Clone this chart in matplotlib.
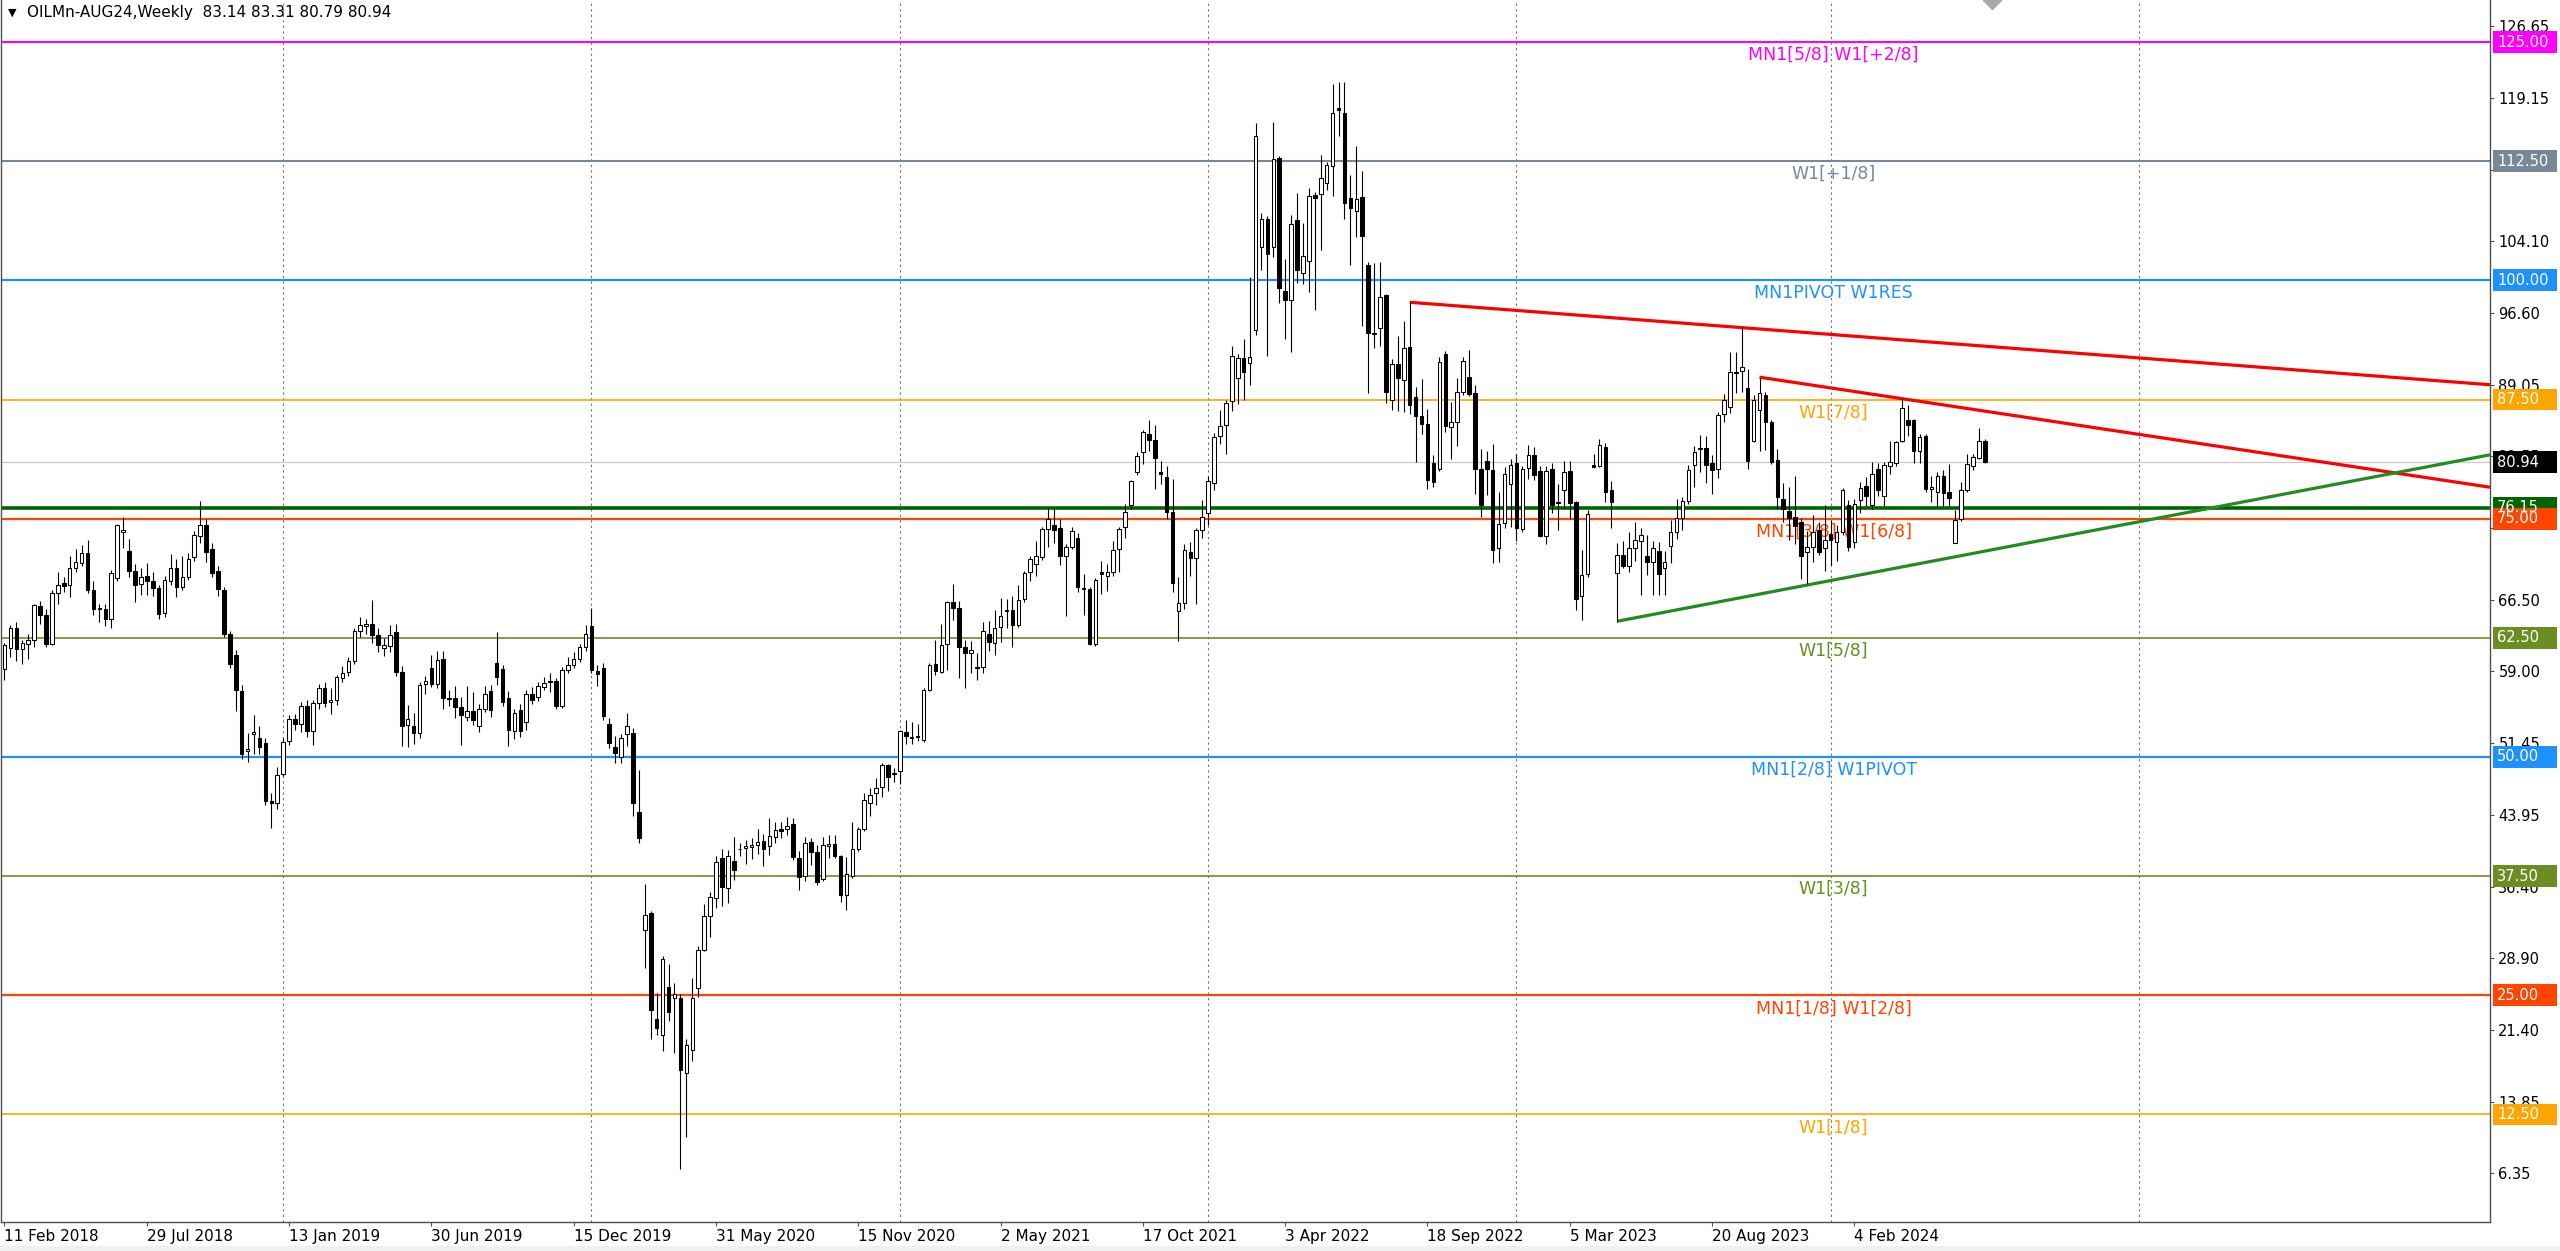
import numpy as np
import matplotlib
matplotlib.use("Agg")
import matplotlib.pyplot as plt
import matplotlib.transforms as mtransforms
from matplotlib.patches import Rectangle

plt.rcParams['font.family'] = ['DejaVu Sans']

# ---------------- data (weekly candles, bar 0 = 11 Feb 2018) ----------------
opens = [
 59.2, 61.4, 63.55, 61.3, 61.9, 62.3, 65.8, 64.9, 61.9, 67.2,
 68.2, 68.0, 69.8, 70.3, 71.4, 67.5, 65.6, 65.5, 64.5, 68.8,
 73.6, 71.6, 69.5, 68.1, 68.95, 68.5, 67.7, 65.1, 68.5, 69.8,
 67.8, 68.9, 71.0, 73.2, 74.3, 71.8, 69.5, 67.5, 62.9, 60.7,
 56.9, 50.6, 52.4, 52.0, 51.5, 45.4, 45.2, 48.25, 51.7, 53.96,
 53.5, 55.3, 52.7, 55.7, 57.2, 55.8, 56.0, 58.3, 58.95, 60.1,
 63.2, 63.7, 64.0, 62.8, 61.45, 61.6, 63.1, 58.9, 53.4, 53.3,
 52.5, 57.7, 59.3, 57.7, 60.3, 56.2, 56.2, 55.2, 54.2, 54.8,
 53.3, 55.0, 56.9, 59.9, 59.2, 56.2, 52.7, 54.9, 53.7, 56.6,
 56.3, 57.3, 57.97, 57.97, 55.4, 59.1, 59.7, 60.3, 61.5, 63.7,
 59.0, 59.3, 53.5, 51.0, 50.0, 52.4, 52.5, 44.2, 31.8, 33.6,
 22.5, 20.8, 25.9, 24.7, 24.7, 16.8, 19.3, 25.8, 29.75, 33.3,
 35.2, 39.4, 36.3, 39.1, 40.3, 40.5, 40.55, 40.76, 41.2, 40.7,
 41.6, 42.4, 42.4, 42.95, 39.4, 37.5, 41.1, 40.0, 37.2, 40.65,
 40.9, 39.6, 35.5, 37.5, 40.3, 42.4, 45.2, 46.2, 46.9, 49.2,
 48.3, 48.5, 52.6, 52.0, 52.1, 51.8, 57.0, 59.8, 58.9, 61.9,
 66.3, 65.6, 61.5, 60.9, 59.4, 59.4, 62.9, 62.0, 63.6, 65.3,
 65.4, 63.8, 66.6, 69.4, 70.25, 70.95, 73.9, 74.3, 74.0, 71.1,
 72.0, 73.0, 67.7, 67.6, 61.9, 69.4, 69.0, 69.4, 71.8, 74.1,
 76.4, 79.9, 81.95, 83.9, 83.3, 79.9, 79.4, 75.7, 65.3, 66.2,
 71.5, 70.9, 73.8, 75.6, 78.76, 83.7, 84.8, 87.3, 89.8, 91.9,
 91.3, 94.8, 103.5, 106.45, 103.5, 112.85, 98.9, 97.9, 106.3, 100.8,
 102.0, 109.0, 109.1, 110.2, 112.0, 118.1, 117.6, 108.65, 107.25, 108.75,
 101.6, 94.4, 95.0, 98.45, 87.4, 91.2, 89.5, 93.0, 87.8, 85.8,
 84.9, 80.85, 80.2, 92.3, 84.6, 85.1, 88.3, 89.9, 88.2, 80.25,
 81.0, 80.1, 71.9, 74.5, 78.6, 80.8, 73.9, 80.3, 81.7, 80.0,
 73.2, 80.2, 76.7, 78.0, 80.0, 76.7, 66.9, 69.2, 80.6, 80.5,
 82.5, 78.0, 69.3, 71.2, 70.0, 71.9, 72.7, 71.1, 70.5, 71.6,
 69.8, 72.1, 73.6, 75.05, 76.9, 80.6, 82.3, 82.4, 80.8, 80.2,
 86.0, 86.7, 90.4, 90.5, 88.7, 83.2, 86.35, 88.0, 85.1, 81.2,
 77.1, 75.8, 75.2, 74.65, 71.5, 72.0, 73.8, 71.9, 73.4, 72.6,
 73.6, 76.4, 72.6, 77.0, 78.4, 76.4, 80.2, 77.4, 80.5, 80.8,
 83.2, 85.3, 85.3, 82.05, 83.7, 78.1, 77.8, 79.5, 77.8, 72.5,
 75.0, 78.0, 80.5, 81.35, 83.14,
]
highs = [
 62.0, 63.8, 64.2, 62.3, 62.9, 66.1, 66.4, 65.5, 67.5, 69.4,
 68.9, 71.1, 71.8, 72.2, 72.8, 68.5, 66.1, 66.0, 69.6, 74.4,
 75.2, 72.9, 70.2, 69.8, 70.3, 69.4, 68.0, 69.0, 71.3, 70.8,
 71.1, 71.4, 73.7, 76.9, 75.0, 72.5, 70.0, 67.8, 63.2, 61.2,
 57.5, 52.5, 54.4, 53.2, 52.0, 46.2, 48.9, 52.0, 54.4, 54.5,
 55.8, 56.0, 56.0, 57.7, 57.9, 57.2, 58.6, 59.5, 60.5, 63.5,
 64.7, 64.5, 66.5, 63.5, 62.5, 63.8, 64.0, 59.5, 55.5, 54.6,
 57.9, 58.5, 60.7, 61.1, 61.1, 57.0, 57.4, 56.3, 57.4, 56.8,
 55.6, 57.4, 57.6, 63.1, 59.6, 56.9, 55.0, 55.6, 57.0, 57.3,
 57.9, 58.4, 58.8, 58.3, 59.4, 60.5, 61.0, 61.9, 63.8, 65.6,
 59.6, 59.9, 54.1, 52.2, 52.4, 54.6, 53.0, 48.6, 36.7, 33.8,
 25.2, 29.1, 28.3, 26.3, 25.1, 20.4, 26.8, 30.2, 34.6, 35.8,
 39.65, 40.4, 40.2, 41.6, 41.0, 41.3, 41.5, 42.4, 41.9, 43.6,
 43.2, 43.2, 43.7, 43.55, 40.1, 41.6, 41.45, 40.8, 41.6, 41.8,
 41.8, 39.7, 39.5, 43.2, 42.7, 46.2, 46.7, 47.8, 49.4, 49.3,
 48.8, 52.8, 53.9, 53.7, 53.5, 57.2, 59.9, 62.25, 63.9, 66.4,
 68.1, 66.4, 62.3, 62.2, 60.9, 64.2, 64.3, 65.4, 66.7, 66.6,
 66.9, 68.0, 69.5, 71.1, 72.7, 74.1, 76.1, 76.0, 75.0, 72.3,
 74.1, 73.5, 69.2, 67.8, 68.8, 70.6, 70.25, 72.7, 74.1, 76.5,
 79.1, 81.95, 84.3, 85.3, 84.8, 81.1, 80.55, 79.2, 68.85, 72.3,
 72.6, 74.0, 77.0, 79.5, 84.0, 86.45, 87.5, 93.1, 92.3, 93.9,
 100.4, 116.5, 107.1, 106.7, 116.6, 113.0, 102.2, 106.9, 109.2, 106.0,
 109.7, 109.3, 113.1, 112.4, 120.65, 120.8, 120.8, 111.1, 114.1, 111.45,
 101.9, 101.8, 101.9, 98.6, 91.8, 94.2, 95.7, 97.7, 88.8, 89.6,
 86.5, 81.65, 91.96, 92.55, 87.2, 89.8, 91.96, 92.7, 89.0, 82.35,
 82.1, 82.8, 77.8, 80.4, 81.3, 81.8, 80.5, 82.7, 82.5, 80.5,
 80.5, 80.8, 78.6, 81.0, 81.0, 76.9, 71.7, 75.9, 81.8, 83.4,
 82.9, 79.0, 72.5, 72.7, 73.6, 74.7, 74.0, 73.3, 72.7, 72.55,
 71.6, 74.9, 77.1, 77.3, 80.6, 82.6, 83.8, 83.7, 81.7, 86.2,
 88.1, 92.5, 92.5, 95.1, 90.7, 88.0, 89.8, 88.3, 85.4, 82.3,
 78.7, 78.3, 79.5, 75.1, 73.7, 75.35, 74.65, 76.4, 74.9, 74.3,
 78.2, 77.0, 77.1, 78.8, 79.4, 80.9, 80.8, 80.9, 83.1, 83.2,
 87.7, 86.9, 85.5, 83.9, 83.9, 79.5, 79.9, 80.1, 80.7, 75.9,
 78.8, 81.8, 81.8, 84.5, 83.31,
]
lows = [
 58.1, 60.5, 60.1, 59.8, 60.3, 61.5, 64.0, 61.5, 61.8, 66.0,
 67.3, 66.8, 69.4, 70.0, 67.2, 64.9, 64.2, 63.7, 63.5, 68.5,
 71.9, 68.9, 66.3, 67.0, 67.0, 66.9, 64.5, 64.7, 68.0, 66.8,
 67.5, 68.6, 70.6, 72.5, 70.5, 68.9, 66.9, 62.6, 59.3, 54.8,
 49.8, 49.5, 50.3, 50.3, 45.0, 42.6, 44.5, 48.0, 51.3, 52.8,
 52.6, 52.1, 51.3, 55.0, 55.2, 54.5, 55.5, 57.9, 58.5, 59.8,
 62.6, 62.9, 62.0, 61.0, 60.6, 61.0, 58.5, 51.2, 51.0, 51.4,
 52.0, 56.6, 57.3, 57.2, 55.0, 55.4, 54.1, 51.3, 53.8, 53.4,
 52.6, 54.7, 54.2, 57.5, 55.3, 51.2, 51.9, 52.1, 52.85, 55.6,
 55.9, 57.0, 56.8, 55.0, 55.1, 58.8, 59.3, 60.0, 61.1, 58.8,
 57.4, 53.85, 50.9, 49.4, 49.4, 51.2, 43.8, 41.0, 27.9, 20.4,
 20.8, 19.2, 22.3, 18.9, 6.8, 10.1, 18.1, 24.8, 29.6, 31.1,
 34.2, 34.4, 34.7, 37.1, 39.6, 38.8, 39.3, 39.8, 38.6, 39.7,
 41.0, 41.5, 41.8, 39.2, 36.0, 37.0, 38.7, 36.6, 37.0, 39.4,
 39.4, 34.8, 33.9, 37.3, 40.1, 42.2, 43.8, 45.0, 45.8, 46.4,
 47.4, 47.2, 51.4, 51.4, 51.7, 51.6, 56.9, 58.6, 58.8, 59.1,
 64.4, 58.3, 57.2, 58.8, 58.1, 58.8, 61.1, 60.7, 62.1, 63.5,
 61.5, 63.6, 66.3, 68.5, 69.0, 70.7, 72.0, 72.5, 70.1, 64.8,
 71.8, 67.3, 64.9, 61.8, 61.6, 67.1, 67.45, 69.0, 69.4, 73.0,
 76.0, 79.6, 80.7, 82.1, 78.1, 78.6, 75.0, 67.3, 62.2, 65.5,
 69.0, 66.1, 73.0, 74.3, 78.0, 82.8, 81.8, 86.3, 87.0, 87.4,
 89.0, 94.3, 101.1, 92.05, 102.4, 97.6, 93.8, 92.5, 99.7, 99.6,
 98.8, 96.9, 103.2, 109.5, 108.9, 115.1, 106.4, 101.6, 104.6, 95.2,
 88.2, 92.9, 93.1, 87.15, 86.45, 86.3, 86.2, 86.0, 80.95, 83.9,
 78.15, 78.3, 80.0, 84.1, 81.3, 82.6, 88.0, 87.9, 77.6, 75.2,
 77.45, 70.3, 70.5, 74.0, 74.1, 72.7, 73.6, 79.2, 79.1, 73.1,
 72.3, 75.6, 73.8, 76.0, 75.0, 65.4, 64.35, 68.9, 80.3, 80.4,
 76.8, 74.0, 64.2, 69.8, 69.4, 70.6, 67.0, 69.1, 67.0, 67.0,
 67.0, 70.3, 72.9, 73.8, 76.5, 78.3, 79.9, 78.7, 77.6, 79.3,
 85.1, 86.1, 88.2, 88.3, 80.2, 83.0, 82.05, 82.2, 80.7, 76.05,
 74.6, 72.8, 72.3, 68.7, 68.1, 70.5, 71.2, 69.5, 70.1, 70.6,
 73.3, 71.6, 71.9, 75.6, 76.3, 76.05, 77.4, 76.3, 79.7, 80.5,
 83.0, 83.7, 80.8, 80.8, 77.8, 76.8, 76.2, 76.3, 76.3, 72.4,
 74.8, 77.8, 80.1, 81.3, 80.79,
]
closes = [
 61.7, 63.5, 61.3, 62.0, 62.3, 65.9, 64.9, 61.9, 67.2, 68.0,
 67.9, 69.8, 70.5, 71.4, 67.5, 65.5, 65.5, 64.5, 69.3, 74.3,
 73.8, 69.5, 68.0, 68.9, 68.5, 67.7, 65.0, 68.6, 69.8, 67.8,
 68.9, 70.8, 73.3, 74.3, 71.5, 69.3, 67.6, 62.9, 59.8, 57.0,
 50.3, 50.8, 52.6, 51.1, 45.4, 45.2, 48.1, 51.6, 54.0, 53.5,
 55.3, 52.7, 55.7, 57.2, 55.7, 56.0, 58.35, 58.8, 60.1, 63.2,
 63.8, 64.0, 62.8, 61.8, 61.7, 62.8, 58.9, 53.2, 54.0, 52.5,
 57.6, 58.0, 57.7, 60.2, 56.2, 56.1, 55.2, 54.4, 54.8, 53.9,
 55.0, 56.6, 54.9, 58.4, 55.8, 52.85, 54.6, 52.7, 56.6, 56.0,
 57.4, 57.8, 57.9, 55.4, 59.1, 59.7, 60.3, 61.5, 62.9, 59.1,
 58.7, 54.3, 51.5, 50.4, 52.0, 53.3, 45.2, 41.5, 33.4, 23.5,
 21.6, 28.8, 23.2, 25.1, 17.2, 19.8, 24.7, 29.75, 33.3, 35.3,
 39.0, 36.4, 39.6, 38.1, 40.4, 40.7, 40.75, 41.1, 40.3, 41.7,
 42.3, 42.2, 42.8, 39.5, 37.4, 41.0, 40.0, 36.9, 40.8, 40.9,
 39.6, 35.5, 37.7, 40.3, 42.4, 45.5, 46.0, 46.7, 49.2, 47.9,
 48.2, 52.7, 52.2, 52.1, 52.15, 57.0, 59.7, 59.0, 61.8, 66.3,
 65.6, 61.5, 60.9, 61.2, 59.3, 63.2, 62.1, 63.5, 64.8, 65.4,
 63.8, 66.5, 69.3, 70.8, 71.1, 73.9, 75.0, 73.85, 71.1, 72.0,
 73.7, 67.8, 67.6, 61.9, 68.6, 69.2, 69.45, 71.75, 73.9, 75.7,
 79.0, 81.6, 84.1, 83.3, 81.4, 79.7, 75.7, 68.2, 66.2, 71.7,
 70.9, 73.8, 75.2, 78.9, 83.58, 84.7, 87.15, 92.05, 91.9, 90.4,
 92.0, 115.1, 106.4, 102.8, 112.7, 99.2, 97.9, 105.95, 101.1, 102.6,
 108.9, 108.65, 110.7, 112.15, 117.6, 117.9, 108.1, 107.6, 108.5, 104.7,
 94.5, 94.5, 98.3, 88.3, 91.2, 89.8, 92.9, 86.96, 85.8, 84.9,
 79.1, 78.85, 91.4, 84.7, 85.1, 88.3, 91.5, 88.1, 80.2, 76.4,
 80.2, 71.7, 74.4, 79.7, 80.6, 74.0, 80.2, 81.7, 79.55, 73.2,
 80.0, 76.4, 76.6, 79.9, 76.6, 66.55, 69.1, 75.5, 80.4, 82.7,
 77.8, 76.7, 71.2, 70.0, 71.9, 72.8, 73.3, 70.5, 71.9, 69.2,
 70.5, 73.6, 75.1, 76.9, 80.1, 82.0, 82.4, 80.6, 80.1, 85.9,
 87.4, 90.4, 90.3, 90.9, 81.0, 87.4, 88.2, 85.1, 80.9, 77.3,
 76.0, 75.1, 74.2, 71.1, 72.0, 73.6, 71.5, 72.8, 72.8, 73.6,
 78.0, 72.0, 76.5, 78.2, 77.4, 79.7, 78.0, 80.6, 80.9, 83.0,
 86.6, 84.85, 82.05, 83.55, 78.1, 78.3, 79.5, 77.7, 77.2, 74.9,
 78.0, 80.7, 81.5, 83.2, 80.94,
]

date_labels = ['11 Feb 2018', '29 Jul 2018', '13 Jan 2019', '30 Jun 2019', '15 Dec 2019',
               '31 May 2020', '15 Nov 2020', '2 May 2021', '17 Oct 2021', '3 Apr 2022',
               '18 Sep 2022', '5 Mar 2023', '20 Aug 2023', '4 Feb 2024']
date_label_bars = [0, 24, 48, 72, 96, 120, 144, 168, 192, 216, 240, 264, 288, 312]
year_start_bars = [47, 99, 151, 203, 255, 308, 360]

price_ticks = [126.65, 119.15, 111.60, 104.10, 96.60, 89.05, 81.55, 74.00, 66.50,
               59.00, 51.45, 43.95, 36.40, 28.90, 21.40, 13.85, 6.35]
price_tick_labels = ['126.65', '119.15', '', '104.10', '96.60', '89.05', '81.55', '', '66.50',
                     '59.00', '51.45', '43.95', '36.40', '28.90', '21.40', '13.85', '6.35']

level_prices = [125.0, 112.5, 100.0, 87.5, 75.0, 62.5, 50.0, 37.5, 25.0, 12.5]
level_names = ['MN1[5/8] W1[+2/8]', 'W1[+1/8]', 'MN1PIVOT W1RES', 'W1[7/8]',
               'MN1[3/8] W1[6/8]', 'W1[5/8]', 'MN1[2/8] W1PIVOT', 'W1[3/8]',
               'MN1[1/8] W1[2/8]', 'W1[1/8]']
level_colors = ['#FF00FF', '#778899', '#1E90FF', '#FFA500', '#FF4500',
                '#6B8E23', '#1E90FF', '#6B8E23', '#FF4500', '#FFA500']
level_widths = [1.5, 1.5, 1.6, 1.2, 1.6, 1.2, 1.6, 1.2, 1.6, 1.2]

support_price = 76.15
last_price = 80.94
header_text = 'OILMn-AUG24,Weekly  83.14 83.31 80.79 80.94'

red1_bars, red1_prices = [237, 419.2], [97.7, 89.05]
red2_bars, red2_prices = [296, 419.2], [89.84, 78.3]
green_bars, green_prices = [272, 419.2], [64.24, 81.7]

# ---------------- figure ----------------
W, H = 2560, 1251
fig = plt.figure(figsize=(W / 100, H / 100), dpi=100)
fig.patch.set_facecolor('white')
ax_left, ax_right, ax_bottom = 1, 2490, 1222
ax = fig.add_axes([ax_left / W, 1 - ax_bottom / H, (ax_right - ax_left) / W, ax_bottom / H])
ax.set_facecolor('white')
ax.set_xlim(-0.59, 419.2)
ax.set_ylim(1.22, 129.41)

o = np.array(opens); h = np.array(highs); l = np.array(lows); c = np.array(closes)
idx = np.arange(len(c))
up = c >= o

# vertical year grid
for b in year_start_bars:
    ax.axvline(b, color='#707070', lw=0.8, ls=(0, (2, 3)), zorder=1)

# levels
for p, col, lw in zip(level_prices, level_colors, level_widths):
    ax.axhline(p, color=col, lw=lw, zorder=2)
ax.axhline(last_price, color='#C8C8C8', lw=0.9, zorder=2)
ax.axhline(support_price, color='#006400', lw=2.6, zorder=2)

# level labels
for p, name, col in zip(level_prices, level_names, level_colors):
    ax.annotate(name, xy=(308.5, p), xytext=(0, -4), textcoords='offset pixels',
                ha='center', va='top', color=col, fontsize=12.5, zorder=2.5)

# trend lines
ax.plot(red1_bars, red1_prices, color='#FF0000', lw=2.3, solid_capstyle='butt', zorder=2.6)
ax.plot(red2_bars, red2_prices, color='#FF0000', lw=2.3, solid_capstyle='butt', zorder=2.6)
ax.plot(green_bars, green_prices, color='#228B22', lw=2.3, solid_capstyle='butt', zorder=2.6)

# candles
ax.vlines(idx, l, h, color='black', lw=0.8, zorder=3)
ax.bar(idx[up], (c - o)[up], bottom=o[up], width=0.6, facecolor='white',
       edgecolor='black', linewidth=0.75, zorder=4)
ax.bar(idx[~up], (o - c)[~up], bottom=c[~up], width=0.6, facecolor='black',
       edgecolor='black', linewidth=0.75, zorder=4)

# chart-shift marker
ax.plot([335.2], [129.41], marker='D', ms=9, color='#A8A8A8', zorder=5, clip_on=True)

# axes styling
ax.spines['top'].set_visible(False)
for s in ['right', 'bottom', 'left']:
    ax.spines[s].set_color('#505050')
    ax.spines[s].set_linewidth(1.0)

ax.yaxis.tick_right()
ax.set_yticks(price_ticks)
ax.set_yticklabels(price_tick_labels)
ax.tick_params(axis='y', direction='out', length=3, width=0.8, pad=3,
               labelsize=10.5, colors='#505050', labelcolor='black')
ax.set_xticks(date_label_bars)
ax.set_xticklabels(date_labels)
ax.tick_params(axis='x', direction='out', length=3, width=0.8, pad=2,
               labelsize=11, colors='#505050', labelcolor='black')
for lbl in ax.get_xticklabels():
    lbl.set_ha('left')

# price boxes on the right axis
trans = mtransforms.blended_transform_factory(ax.transAxes, ax.transData)
axw = ax_right - ax_left
box_h = 2.3
def price_box(p, col, txtcol='white'):
    ax.add_patch(Rectangle((1 + 3 / axw, p - box_h / 2), 64 / axw, box_h, transform=trans,
                           facecolor=col, edgecolor='none', clip_on=False, zorder=6))
    ax.text(1 + 7 / axw, p, f'{p:.2f}', transform=trans, ha='left', va='center',
            color=txtcol, fontsize=10.5, clip_on=False, zorder=7)

for p, col in zip(level_prices, level_colors):
    if p == 75.0:
        continue
    price_box(p, col)
price_box(support_price, '#006400')
price_box(75.0, '#FF4500')
price_box(last_price, 'black')

# header
fig.text(8 / W, 1 - 13 / H, '\u25BC', fontsize=8, va='center', ha='left', color='black')
fig.text(27 / W, 1 - 13 / H, header_text, fontsize=11, va='center', ha='left', color='black')

# bottom strip
fig.patches.append(Rectangle((0, 0), 1, 5 / H, transform=fig.transFigure,
                             facecolor='#F0F0F0', edgecolor='none', zorder=0))

fig.savefig('out.png', dpi=100, facecolor='white')
